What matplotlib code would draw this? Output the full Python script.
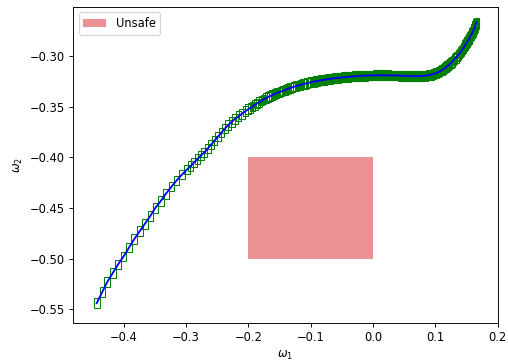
"""
Reachable boxes along a trajectory in (omega_1, omega_2) with an unsafe region.
"""

import matplotlib
matplotlib.use("Agg")
import matplotlib.pyplot as plt
from matplotlib.patches import Rectangle


# Trajectory points (box centres)

omega1 = [
    -0.443, -0.434, -0.426, -0.417, -0.409, -0.400, -0.391, -0.383, -0.374,
    -0.366, -0.357, -0.349, -0.340, -0.332, -0.323, -0.315, -0.306, -0.298,
    -0.2925, -0.287, -0.2815, -0.276, -0.2705, -0.265, -0.2595, -0.254,
    -0.2485, -0.243, -0.2375, -0.232, -0.2265, -0.221, -0.2155, -0.210,
    -0.2045,
    -0.200, -0.1965, -0.193, -0.1895, -0.186, -0.1825, -0.179, -0.1755,
    -0.172, -0.1685, -0.165, -0.1615, -0.158, -0.1545, -0.151, -0.1475,
    -0.144, -0.1405, -0.137, -0.1335, -0.130, -0.1265, -0.123, -0.1195,
    -0.116, -0.1125, -0.109, -0.1055, -0.102,
    -0.099, -0.097, -0.095, -0.093, -0.091, -0.089, -0.087, -0.085, -0.083,
    -0.081, -0.079, -0.077, -0.075, -0.073, -0.071, -0.069, -0.067, -0.065,
    -0.063, -0.061, -0.059, -0.057, -0.055, -0.053, -0.051, -0.049, -0.047,
    -0.045, -0.043, -0.041, -0.039, -0.037, -0.035, -0.033, -0.031, -0.029,
    -0.027, -0.025, -0.023, -0.021, -0.019, -0.017, -0.015, -0.013, -0.011,
    -0.009, -0.007, -0.005, -0.003, -0.001,
    0.001, 0.003, 0.005, 0.007, 0.009, 0.011, 0.013, 0.015, 0.017, 0.019,
    0.021, 0.023, 0.025, 0.027, 0.029, 0.031, 0.033, 0.035, 0.037, 0.039,
    0.041, 0.043, 0.045, 0.047, 0.049, 0.051, 0.053, 0.055, 0.057, 0.059,
    0.061, 0.063, 0.065, 0.067, 0.069, 0.071, 0.073, 0.075, 0.077, 0.079,
    0.081, 0.083, 0.085, 0.087, 0.089, 0.091, 0.093, 0.095, 0.097, 0.099,
    0.101, 0.103, 0.105, 0.107, 0.109, 0.111, 0.113, 0.115, 0.117, 0.119,
    0.121, 0.123, 0.125, 0.127, 0.129, 0.131, 0.133, 0.135, 0.137, 0.139,
    0.1405, 0.142, 0.1435, 0.145, 0.1465, 0.148, 0.1495, 0.151, 0.1525, 0.154,
    0.155, 0.156, 0.157, 0.158, 0.159, 0.160, 0.161, 0.162, 0.163, 0.1635,
    0.164, 0.165, 0.1655, 0.166,
]

omega2 = [
    -0.544, -0.533, -0.523, -0.514, -0.506, -0.498, -0.489, -0.481, -0.473,
    -0.466, -0.458, -0.450, -0.443, -0.436, -0.429, -0.423, -0.417, -0.412,
    -0.4088, -0.4052, -0.4018, -0.3984, -0.3953, -0.3915, -0.3876, -0.3836,
    -0.3797, -0.3757, -0.3718, -0.3683, -0.3651, -0.3620, -0.3596, -0.3573,
    -0.3547,
    -0.3526, -0.3512, -0.3498, -0.3484, -0.3470, -0.3456, -0.3442, -0.3429,
    -0.3418, -0.3408, -0.3397, -0.3387, -0.3377, -0.3368, -0.3360, -0.3352,
    -0.3343, -0.3335, -0.3326, -0.3318, -0.3311, -0.3304, -0.3298, -0.3292,
    -0.3286, -0.3280, -0.3275, -0.3269, -0.3264,
    -0.3260, -0.3257, -0.3255, -0.3252, -0.3250, -0.3247, -0.3245, -0.3242,
    -0.3240, -0.3238, -0.3236, -0.3234, -0.3232, -0.3230, -0.3228, -0.3227,
    -0.3225, -0.3224, -0.3222, -0.3221, -0.3219, -0.3218, -0.3216, -0.3215,
    -0.3213, -0.3212, -0.3211, -0.3210, -0.3209, -0.3208, -0.3206, -0.3205,
    -0.3204, -0.3203, -0.3202, -0.3201, -0.3200, -0.3200, -0.3199, -0.3198,
    -0.3197, -0.3197, -0.3196, -0.3196, -0.3195, -0.3195, -0.3194, -0.3194,
    -0.3193, -0.3193,
    -0.3193, -0.3193, -0.3192, -0.3192, -0.3192, -0.3192, -0.3192, -0.3192,
    -0.3192, -0.3192, -0.3192, -0.3192, -0.3192, -0.3193, -0.3193, -0.3193,
    -0.3193, -0.3194, -0.3194, -0.3194, -0.3195, -0.3195, -0.3196, -0.3196,
    -0.3197, -0.3197, -0.3198, -0.3198, -0.3199, -0.3199, -0.3200, -0.3200,
    -0.3200, -0.3200, -0.3200, -0.3200, -0.3200, -0.3199, -0.3199, -0.3198,
    -0.3197, -0.3196, -0.3195, -0.3193, -0.3191, -0.3189, -0.3186, -0.3183,
    -0.3179, -0.3175, -0.3170, -0.3165, -0.3159, -0.3153, -0.3146, -0.3139,
    -0.3131, -0.3122, -0.3113, -0.3103, -0.3093, -0.3082, -0.3071, -0.3059,
    -0.3046, -0.3033, -0.3019, -0.3005, -0.2990, -0.2975,
    -0.2963, -0.2950, -0.2936, -0.2922, -0.2908, -0.2893, -0.2878, -0.2863,
    -0.2848, -0.2832, -0.2821, -0.2810, -0.2798, -0.2786, -0.2774, -0.2762,
    -0.2750, -0.2738, -0.2727, -0.2715, -0.2704, -0.2692, -0.2681, -0.2670,
]

# Unsafe set (omega_1 range, omega_2 range)
unsafe_w1 = [-0.2, 0.0]
unsafe_w2 = [-0.5, -0.4]

box_w = 0.009    # reachable box width in omega_1
box_h = 0.0095   # reachable box height in omega_2


DPI = 83
fig = plt.figure(figsize=(508 / DPI, 362 / DPI), dpi=DPI)
ax = fig.add_axes([0.1437, 0.1077, 0.836, 0.8738])

# Unsafe region
ax.add_patch(Rectangle(
    (unsafe_w1[0], unsafe_w2[0]),
    unsafe_w1[1] - unsafe_w1[0],
    unsafe_w2[1] - unsafe_w2[0],
    facecolor="tab:red", alpha=0.5, edgecolor="none", label="Unsafe"
))

# Reachable boxes
for cx, cy in zip(omega1, omega2):
    ax.add_patch(Rectangle(
        (cx - box_w / 2, cy - box_h / 2), box_w, box_h,
        fill=False, edgecolor="green", linewidth=0.9
    ))

# Simulated trajectory
ax.plot(omega1, omega2, color="blue", linewidth=1.6)

ax.set_xlim(-0.481, 0.2)
ax.set_ylim(-0.5636, -0.2515)
ax.set_xlabel(r"$\omega_1$")
ax.set_ylabel(r"$\omega_2$")
ax.legend(loc="upper left")

fig.savefig("out.png", dpi=DPI)
